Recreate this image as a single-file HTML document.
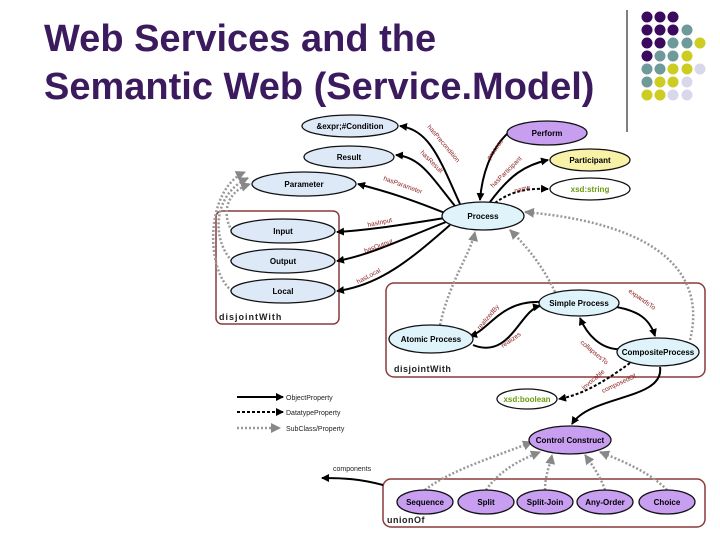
<!DOCTYPE html>
<html><head><meta charset="utf-8"><style>
body{margin:0;width:720px;height:540px;background:#fff;overflow:hidden;position:relative;font-family:"Liberation Sans",sans-serif}
.t{position:absolute;left:44px;color:#3b1a5e;font-weight:bold;font-size:38px;white-space:nowrap;line-height:44px}
</style></head><body>
<div class="t" style="top:17px">Web Services and the</div>
<div class="t" style="top:65px">Semantic Web (Service.Model)</div>
<svg width="720" height="540" style="position:absolute;left:0;top:0" font-family="Liberation Sans, sans-serif">
<defs>
<marker id="a" markerWidth="8" markerHeight="8" refX="7" refY="4" orient="auto" markerUnits="userSpaceOnUse"><path d="M0,0L8,4L0,8z" fill="#000"/></marker>
<marker id="g" markerWidth="10" markerHeight="10" refX="9" refY="5" orient="auto" markerUnits="userSpaceOnUse"><path d="M0,0L10,5L0,10z" fill="#888"/></marker>
</defs>
<line x1="627" y1="10" x2="627" y2="132" stroke="#000" stroke-width="1"/>
<g>
<circle cx="647" cy="17" r="5.5" fill="#3b0a5e"/><circle cx="660" cy="17" r="5.5" fill="#3b0a5e"/><circle cx="673" cy="17" r="5.5" fill="#3b0a5e"/>
<circle cx="647" cy="30" r="5.5" fill="#3b0a5e"/><circle cx="660" cy="30" r="5.5" fill="#3b0a5e"/><circle cx="673" cy="30" r="5.5" fill="#3b0a5e"/><circle cx="687" cy="30" r="5.5" fill="#6f9a9a"/>
<circle cx="647" cy="43" r="5.5" fill="#3b0a5e"/><circle cx="660" cy="43" r="5.5" fill="#3b0a5e"/><circle cx="673" cy="43" r="5.5" fill="#6f9a9a"/><circle cx="687" cy="43" r="5.5" fill="#6f9a9a"/><circle cx="700" cy="43" r="5.5" fill="#cccc22"/>
<circle cx="647" cy="56" r="5.5" fill="#3b0a5e"/><circle cx="660" cy="56" r="5.5" fill="#6f9a9a"/><circle cx="673" cy="56" r="5.5" fill="#6f9a9a"/><circle cx="687" cy="56" r="5.5" fill="#cccc22"/>
<circle cx="647" cy="69" r="5.5" fill="#6f9a9a"/><circle cx="660" cy="69" r="5.5" fill="#6f9a9a"/><circle cx="673" cy="69" r="5.5" fill="#cccc22"/><circle cx="687" cy="69" r="5.5" fill="#cccc22"/><circle cx="700" cy="69" r="5.5" fill="#d8d8ea"/>
<circle cx="647" cy="82" r="5.5" fill="#6f9a9a"/><circle cx="660" cy="82" r="5.5" fill="#cccc22"/><circle cx="673" cy="82" r="5.5" fill="#cccc22"/><circle cx="687" cy="82" r="5.5" fill="#d8d8ea"/>
<circle cx="647" cy="95" r="5.5" fill="#cccc22"/><circle cx="660" cy="95" r="5.5" fill="#cccc22"/><circle cx="673" cy="95" r="5.5" fill="#d8d8ea"/><circle cx="687" cy="95" r="5.5" fill="#d8d8ea"/>
</g>
<g fill="none" stroke="#8a3a3a" stroke-width="1.5">
<rect x="216" y="211" width="123" height="113" rx="6"/>
<rect x="386" y="283" width="319" height="94" rx="8"/>
<rect x="383" y="479" width="322" height="48" rx="8"/>
</g>
<g font-size="9" font-weight="bold" fill="#222"><text x="219" y="320" letter-spacing="1">disjointWith</text><text x="394" y="372" letter-spacing="0.5">disjointWith</text><text x="387" y="523" letter-spacing="0.5">unionOf</text></g>
<g fill="none" stroke="#999" stroke-width="2.5" stroke-dasharray="2,2" marker-end="url(#g)">
<path d="M232,291 C205,270 205,190 245,172"/>
<path d="M232,261 C212,240 212,195 248,178"/>
<path d="M232,231 C222,215 225,192 250,184"/>
<path d="M440,325 C450,280 470,255 475,232"/>
<path d="M555,292 C540,260 520,240 510,230"/>
<path d="M690,340 C705,280 670,225 525,212"/>
<path d="M425,490 C450,470 500,455 532,442"/>
<path d="M486,490 C500,470 520,460 540,452"/>
<path d="M545,490 C545,475 550,465 552,455"/>
<path d="M605,490 C600,475 590,462 585,455"/>
<path d="M667,490 C650,472 620,460 600,452"/>
</g>
<g fill="none" stroke="#000" stroke-width="2" marker-end="url(#a)">
<path d="M460,204 C440,160 430,130 400,126"/>
<path d="M455,206 C430,175 420,157 396,155"/>
<path d="M445,213 C400,195 380,190 358,184"/>
<path d="M445,218 C400,225 370,230 337,232"/>
<path d="M446,222 C400,240 370,255 337,261"/>
<path d="M450,225 C410,260 380,285 337,291"/>
<path d="M508,133 C490,150 482,175 480,200"/>
<path d="M490,202 C510,175 525,165 548,160"/>
<path d="M610,306 C640,310 650,320 655,336"/>
<path d="M630,348 C600,355 585,330 580,318"/>
<path d="M542,302 C500,300 490,330 470,336"/>
<path d="M473,345 C510,360 520,310 540,306"/>
<path d="M660,367 C665,400 590,395 572,424"/>
<path d="M383,485 C360,479 345,478 322,478"/>
<line x1="237" y1="397" x2="283" y2="397"/>
</g>
<g fill="none" stroke="#000" stroke-width="2" stroke-dasharray="3,2" marker-end="url(#a)">
<path d="M495,203 C510,192 525,188 548,189"/>
<path d="M630,363 C600,385 580,395 559,399"/>
<line x1="237" y1="412" x2="283" y2="412"/>
</g>
<line x1="237" y1="428" x2="280" y2="428" stroke="#999" stroke-width="2.5" stroke-dasharray="2,2" marker-end="url(#g)"/>
<g font-size="7" fill="#222"><text x="286" y="400">ObjectProperty</text><text x="286" y="415">DatatypeProperty</text><text x="286" y="431">SubClass/Property</text><text x="333" y="471">components</text></g>
<g font-size="6.5" fill="#8b1a1a">
<text transform="translate(427,127) rotate(50)">hasPrecondition</text>
<text transform="translate(420,153) rotate(45)">hasResult</text>
<text transform="translate(383,180) rotate(20)">hasParameter</text>
<text transform="translate(368,227) rotate(-12)">hasInput</text>
<text transform="translate(365,253) rotate(-20)">hasOutput</text>
<text transform="translate(358,284) rotate(-28)">hasLocal</text>
<text transform="translate(490,160) rotate(-55)">process</text>
<text transform="translate(493,188) rotate(-45)">hasParticipant</text>
<text transform="translate(515,193) rotate(-15)">name</text>
<text transform="translate(480,330) rotate(-50)">realizedBy</text>
<text transform="translate(503,348) rotate(-35)">realizes</text>
<text transform="translate(628,292) rotate(35)">expandsTo</text>
<text transform="translate(580,343) rotate(40)">collapsesTo</text>
<text transform="translate(584,390) rotate(-40)">invocable</text>
<text transform="translate(603,393) rotate(-25)">composedOf</text>
</g>
<g stroke="#111" stroke-width="1.3" font-size="8" font-weight="bold" text-anchor="middle">
<ellipse cx="350" cy="126" rx="48" ry="11" fill="#dde9f7"/><text x="350" y="129" stroke="none">&amp;expr;#Condition</text>
<ellipse cx="349" cy="157" rx="45" ry="11" fill="#dde9f7"/><text x="349" y="160" stroke="none">Result</text>
<ellipse cx="304" cy="184" rx="52" ry="12" fill="#dde9f7"/><text x="304" y="187" stroke="none">Parameter</text>
<ellipse cx="283" cy="231" rx="52" ry="12" fill="#dde9f7"/><text x="283" y="234" stroke="none">Input</text>
<ellipse cx="283" cy="261" rx="52" ry="12" fill="#dde9f7"/><text x="283" y="264" stroke="none">Output</text>
<ellipse cx="283" cy="291" rx="52" ry="12" fill="#dde9f7"/><text x="283" y="294" stroke="none">Local</text>
<ellipse cx="483" cy="216" rx="41" ry="14" fill="#dff3fa"/><text x="483" y="219" stroke="none">Process</text>
<ellipse cx="547" cy="133" rx="40" ry="12" fill="#c79ef0"/><text x="547" y="136" stroke="none">Perform</text>
<ellipse cx="590" cy="160" rx="40" ry="11" fill="#f7f2a8"/><text x="590" y="163" stroke="none">Participant</text>
<ellipse cx="590" cy="189" rx="40" ry="11" fill="#fff"/><text x="590" y="192" stroke="none" fill="#6a9a10">xsd:string</text>
<ellipse cx="579" cy="303" rx="40" ry="13" fill="#dff3fa"/><text x="579" y="306" stroke="none">Simple Process</text>
<ellipse cx="431" cy="339" rx="42" ry="14" fill="#dff3fa"/><text x="431" y="342" stroke="none">Atomic Process</text>
<ellipse cx="658" cy="352" rx="41" ry="14" fill="#dff3fa"/><text x="658" y="355" stroke="none">CompositeProcess</text>
<ellipse cx="527" cy="399" rx="30" ry="10" fill="#fff"/><text x="527" y="402" stroke="none" fill="#6a9a10">xsd:boolean</text>
<ellipse cx="570" cy="440" rx="41" ry="14" fill="#c79ef0"/><text x="570" y="443" stroke="none">Control Construct</text>
<ellipse cx="425" cy="502" rx="28" ry="12" fill="#c79ef0"/><text x="425" y="505" stroke="none">Sequence</text>
<ellipse cx="486" cy="502" rx="28" ry="12" fill="#c79ef0"/><text x="486" y="505" stroke="none">Split</text>
<ellipse cx="545" cy="502" rx="28" ry="12" fill="#c79ef0"/><text x="545" y="505" stroke="none">Split-Join</text>
<ellipse cx="605" cy="502" rx="28" ry="12" fill="#c79ef0"/><text x="605" y="505" stroke="none">Any-Order</text>
<ellipse cx="667" cy="502" rx="28" ry="12" fill="#c79ef0"/><text x="667" y="505" stroke="none">Choice</text>
</g>
</svg>
</body></html>
